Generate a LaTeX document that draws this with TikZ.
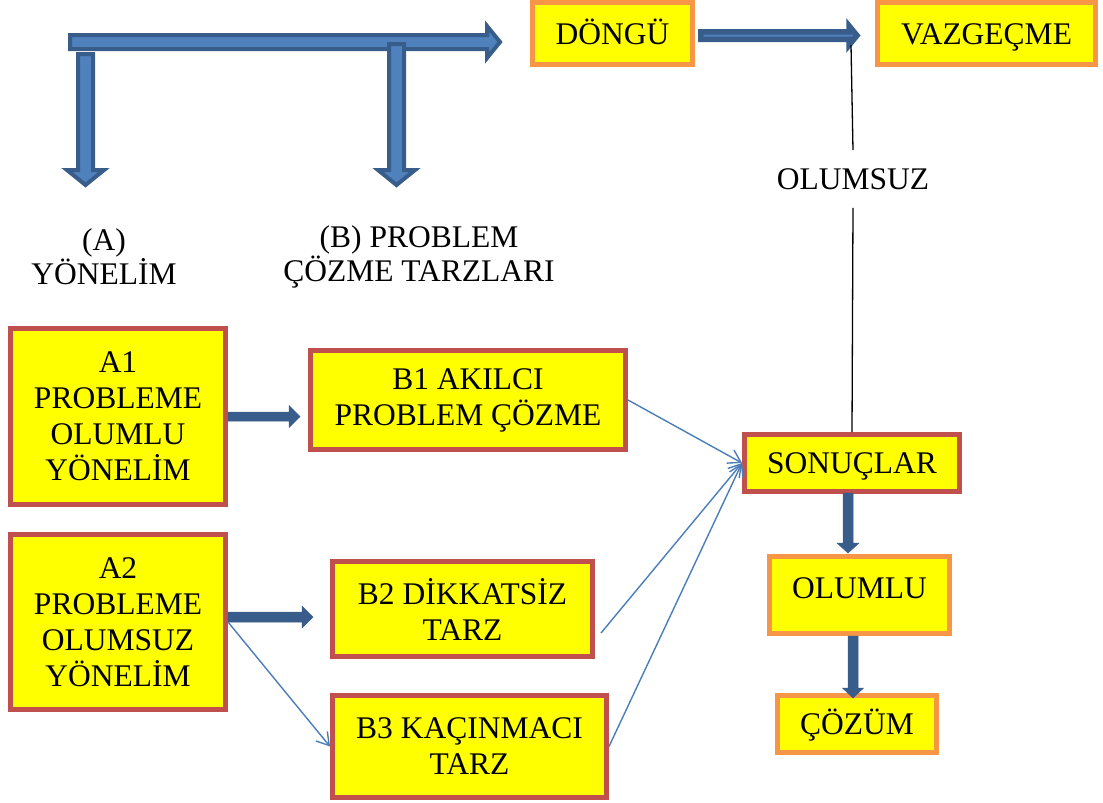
\documentclass[tikz,border=0pt]{standalone}
\usepackage{fontspec}
\setmainfont{Liberation Serif}
\newfontfamily\tnrfont{Liberation Serif}
\usetikzlibrary{arrows.meta}
\definecolor{boxyellow}{HTML}{FFFF00}
\definecolor{boxred}{HTML}{C0504D}
\definecolor{boxorange}{HTML}{F79646}
\definecolor{arrfill}{HTML}{4F81BD}
\definecolor{arrdark}{HTML}{385D8A}
\definecolor{thinblue}{HTML}{4A7EBB}
\newcommand{\bigfont}{\tnrfont\fontsize{31.5}{36}\selectfont}
% horizontal block arrow: x start, x tip, y centre, half shaft, half head, head length
\newcommand{\harrowpath}[6]{(#1,#3-#4) -- (#2-#6,#3-#4) -- (#2-#6,#3-#5) -- (#2,#3) -- (#2-#6,#3+#5) -- (#2-#6,#3+#4) -- (#1,#3+#4) -- cycle}
% vertical block arrow: y start, y tip, x centre, half shaft, half head, head length
\newcommand{\varrowpath}[6]{(#3-#4,#1) -- (#3-#4,#2-#6) -- (#3-#5,#2-#6) -- (#3,#2) -- (#3+#5,#2-#6) -- (#3+#4,#2-#6) -- (#3+#4,#1) -- cycle}
\begin{document}
\begin{tikzpicture}[x=1pt,y=-1pt,
  redbox/.style={draw=boxred, fill=boxyellow, line width=5pt, inner sep=0pt, align=center, font=\bigfont},
  orangebox/.style={draw=boxorange, fill=boxyellow, line width=5pt, inner sep=0pt, align=center, font=\bigfont},
  oneline/.style={text height=21pt, text depth=0pt},
  plaintext/.style={inner sep=0pt, align=center, font=\bigfont},
  bigarrow/.style={fill=arrfill, draw=arrdark, line width=4pt, line join=miter},
  solidarrow/.style={fill=arrdark, draw=arrdark, line width=0.5pt, line join=miter},
  thinarrow/.style={draw=thinblue, line width=1.4pt, -{Straight Barb[length=12pt,width=15pt,line width=1.4pt]}},
  thinline/.style={draw=black, line width=1.3pt}]
\useasboundingbox (0,0) rectangle (1103,803);

% boxes
\node[orangebox, oneline, minimum width=160pt, minimum height=62pt] (DON) at (612.5,33.5) {DÖNGÜ};
\node[orangebox, oneline, minimum width=218pt, minimum height=62pt] (VAZ) at (986.5,33.5) {VAZGEÇME};
\node[redbox, minimum width=215pt, minimum height=176pt] (A1) at (118,416.5) {A1\\PROBLEME\\OLUMLU\\YÖNELİM};
\node[redbox, minimum width=315pt, minimum height=99pt] (B1) at (468,400) {B1 AKILCI\\PROBLEM ÇÖZME};
\node[redbox, minimum width=215pt, minimum height=175pt] (A2) at (118,622) {A2\\PROBLEME\\OLUMSUZ\\YÖNELİM};
\node[redbox, minimum width=260pt, minimum height=95pt] (B2) at (462.5,609) {B2 DİKKATSİZ\\TARZ};
\node[redbox, minimum width=274pt, minimum height=102pt] (B3) at (469.5,746.5) {B3 KAÇINMACI\\TARZ};
\node[redbox, oneline, minimum width=215pt, minimum height=57pt] (SON) at (852,463) {SONUÇLAR};
\node[orangebox, oneline, minimum width=180pt, minimum height=77pt] (OLU) at (859.5,595) {\raisebox{7pt}[\height][\depth]{OLUMLU}};
\node[orangebox, oneline, minimum width=159pt, minimum height=57pt] (COZ) at (857,724) {ÇÖZÜM};

% free texts
\node[plaintext, font=\tnrfont\fontsize{31.5}{34}\selectfont] (LA) at (104,257) {(A)\\YÖNELİM};
\node[plaintext, font=\tnrfont\fontsize{31.5}{34}\selectfont] (LB) at (419,257) {(B) PROBLEM\\ÇÖZME TARZLARI};
\node[plaintext, inner ysep=18pt] (OL) at (853,179) {OLUMSUZ};

% top block arrows
\draw[bigarrow] \harrowpath{70}{500}{42}{7}{16}{13};
\draw[bigarrow] \varrowpath{54}{185}{85.5}{7.5}{18.5}{15};
\draw[bigarrow] \varrowpath{44}{185}{396.5}{7.5}{18.5}{15};

% DÖNGÜ -> VAZGEÇME
\draw[fill=arrfill, draw=arrdark, line width=5.5pt, line join=miter] \harrowpath{700.75}{857}{35.5}{3.75}{9.75}{8};

% OLUMSUZ line
\coordinate (dv) at (851,45);
\draw[thinline] (SON.north) -- (OL.south);
\draw[thinline] (OL.north) -- (dv);

% solid block arrows
\draw[solidarrow] \harrowpath{228}{300}{416.5}{4.5}{11}{11};
\draw[solidarrow] \harrowpath{228}{313}{617}{5}{11}{11};
\draw[solidarrow] \varrowpath{493}{553}{848}{5}{11}{10};
\draw[solidarrow] \varrowpath{636}{698}{853}{5}{10.5}{10};

% thin connectors
\coordinate (b2o) at (601,633);
\draw[thinarrow] (B1.east) -- (SON.west);
\draw[thinarrow] (b2o) -- (SON.west);
\draw[thinarrow] (B3.east) -- (SON.west);
\draw[thinarrow] (A2.east) -- (B3.west);
\end{tikzpicture}
\end{document}
